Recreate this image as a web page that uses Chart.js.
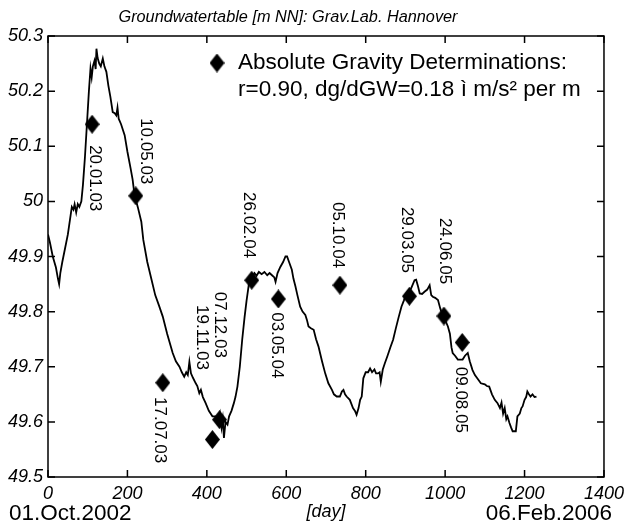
<!DOCTYPE html>
<html>
<head>
<meta charset="utf-8">
<script src="https://cdn.jsdelivr.net/npm/chart.js@4.4.1/dist/chart.umd.min.js"></script>
<style>
  html, body { margin: 0; padding: 0; background: #fff; }
  canvas { display: block; }
</style>
</head>
<body>
<canvas id="gwChart" width="630" height="525"></canvas>
<script>
// groundwater level (day since 01.10.2002, m NN)
const gwDays = [0, 5, 12, 20, 25, 28, 31, 36, 43, 50, 57, 60, 64, 67, 71, 75, 79, 84, 88, 93, 98, 103, 107, 110, 113, 117, 120, 122, 125, 129, 133, 138, 142, 147, 152, 157, 163, 168, 172, 175, 178, 184, 193, 200, 208, 213, 218, 226, 235, 240, 250, 260, 270, 280, 289, 300, 314, 322, 331, 337, 343, 348, 352, 356, 360, 365, 372, 376, 381, 385, 390, 397, 405, 414, 422, 428, 433, 437, 440, 443, 447, 452, 456, 462, 468, 472, 477, 483, 489, 495, 500, 506, 514, 520, 525, 531, 538, 545, 552, 558, 564, 570, 573, 578, 585, 592, 598, 602, 607, 614, 618, 623, 628, 635, 641, 648, 652, 656, 662, 669, 675, 681, 690, 698, 706, 715, 720, 727, 735, 740, 744, 748, 752, 760, 768, 773, 777, 782, 786, 790, 794, 800, 806, 811, 816, 822, 826, 831, 835, 838, 843, 848, 855, 862, 869, 876, 883, 890, 896, 902, 910, 916, 923, 927, 932, 936, 942, 948, 955, 961, 965, 969, 975, 982, 988, 994, 1000, 1007, 1012, 1016, 1019, 1025, 1032, 1038, 1044, 1050, 1057, 1062, 1069, 1075, 1080, 1085, 1090, 1100, 1105, 1111, 1118, 1125, 1132, 1138, 1142, 1146, 1150, 1154, 1157, 1162, 1166, 1170, 1174, 1178, 1182, 1188, 1192, 1195, 1200, 1204, 1207, 1211, 1215, 1220, 1225, 1230];
const gwLevel = [49.94, 49.925, 49.90, 49.88, 49.86, 49.85, 49.87, 49.89, 49.915, 49.94, 49.975, 49.99, 49.985, 49.995, 49.98, 49.995, 49.99, 50.0, 50.03, 50.08, 50.14, 50.2, 50.241, 50.225, 50.245, 50.255, 50.24, 50.277, 50.26, 50.25, 50.245, 50.259, 50.245, 50.235, 50.21, 50.19, 50.162, 50.16, 50.156, 50.17, 50.15, 50.14, 50.12, 50.09, 50.06, 50.04, 50.011, 49.99, 49.963, 49.93, 49.89, 49.86, 49.83, 49.81, 49.791, 49.76, 49.725, 49.71, 49.70, 49.69, 49.682, 49.69, 49.685, 49.709, 49.688, 49.68, 49.67, 49.665, 49.652, 49.658, 49.645, 49.634, 49.62, 49.61, 49.61, 49.6, 49.615, 49.59, 49.605, 49.571, 49.6, 49.595, 49.61, 49.62, 49.634, 49.645, 49.664, 49.7, 49.749, 49.79, 49.82, 49.851, 49.863, 49.87, 49.865, 49.872, 49.868, 49.872, 49.866, 49.87, 49.866, 49.862, 49.854, 49.87, 49.881, 49.89, 49.9, 49.9, 49.89, 49.876, 49.86, 49.846, 49.83, 49.809, 49.8, 49.794, 49.785, 49.773, 49.77, 49.767, 49.75, 49.737, 49.71, 49.688, 49.67, 49.658, 49.65, 49.646, 49.646, 49.655, 49.658, 49.65, 49.646, 49.64, 49.625, 49.62, 49.613, 49.625, 49.64, 49.646, 49.679, 49.69, 49.69, 49.697, 49.69, 49.695, 49.688, 49.688, 49.69, 49.673, 49.695, 49.706, 49.72, 49.735, 49.749, 49.77, 49.79, 49.809, 49.82, 49.833, 49.835, 49.845, 49.857, 49.858, 49.845, 49.833, 49.832, 49.836, 49.84, 49.848, 49.83, 49.827, 49.825, 49.821, 49.805, 49.791, 49.785, 49.773, 49.76, 49.735, 49.725, 49.72, 49.713, 49.713, 49.713, 49.72, 49.725, 49.71, 49.694, 49.685, 49.68, 49.675, 49.67, 49.668, 49.665, 49.664, 49.65, 49.64, 49.634, 49.625, 49.635, 49.615, 49.625, 49.605, 49.61, 49.598, 49.59, 49.583, 49.583, 49.583, 49.61, 49.615, 49.625, 49.628, 49.64, 49.645, 49.655, 49.65, 49.646, 49.65, 49.645, 49.646];

// absolute gravity determinations
const agDates = ["20.01.03", "10.05.03", "17.07.03", "19.11.03", "07.12.03", "26.02.04", "03.05.04", "05.10.04", "29.03.05", "24.06.05", "09.08.05"];
const agDays = [111, 221, 289, 414, 432, 513, 580, 735, 910, 997, 1043];
const agLevel = [50.14, 50.01, 49.671, 49.568, 49.604, 49.857, 49.823, 49.848, 49.828, 49.792, 49.744];
// where each date text starts (day, level), text runs downward
const labelDays = [118, 245, 280, 388, 433, 506, 576, 729, 902, 999, 1039];
const labelLevels = [50.102, 50.151, 49.645, 49.812, 49.836, 50.017, 49.799, 49.999, 49.990, 49.970, 49.700];

const xTicks = [0, 200, 400, 600, 800, 1000, 1200, 1400];
const yTicks = [49.5, 49.6, 49.7, 49.8, 49.9, 50, 50.1, 50.2, 50.3];

const titleText = "Groundwatertable [m NN]: Grav.Lab. Hannover";
const legendLines = ["Absolute Gravity Determinations:", "r=0.90, dg/dGW=0.18 ì m/s² per m"];
const startDate = "01.Oct.2002";
const endDate = "06.Feb.2006";
const xTitle = "[day]";

const FONT = "'Liberation Sans', Arial, sans-serif";

// diamond marker, a bit taller than wide
const diamond = document.createElement("canvas");
diamond.width = 15;
diamond.height = 19;
(() => {
  const c = diamond.getContext("2d");
  c.fillStyle = "#000";
  c.beginPath();
  c.moveTo(7.5, 0);
  c.lineTo(15, 9.5);
  c.lineTo(7.5, 19);
  c.lineTo(0, 9.5);
  c.closePath();
  c.fill();
})();

const framePlugin = {
  id: "frame",
  afterDatasetsDraw(chart) {
    const { ctx, chartArea: a, scales } = chart;
    const tick = 7;
    ctx.save();
    ctx.strokeStyle = "#000";
    ctx.lineWidth = 1.5;
    ctx.strokeRect(a.left, a.top, a.right - a.left, a.bottom - a.top);
    ctx.beginPath();
    xTicks.forEach(v => {
      const x = scales.x.getPixelForValue(v);
      ctx.moveTo(x, a.bottom); ctx.lineTo(x, a.bottom - tick);
      ctx.moveTo(x, a.top); ctx.lineTo(x, a.top + tick);
    });
    yTicks.forEach(v => {
      const y = scales.y.getPixelForValue(v);
      ctx.moveTo(a.left, y); ctx.lineTo(a.left + tick, y);
      ctx.moveTo(a.right, y); ctx.lineTo(a.right - tick, y);
    });
    ctx.stroke();
    ctx.restore();
  },
  afterDraw(chart) {
    const { ctx, chartArea: a, scales } = chart;
    ctx.save();
    ctx.fillStyle = "#000";

    // title
    ctx.font = "italic 16.3px " + FONT;
    ctx.textAlign = "center";
    ctx.textBaseline = "alphabetic";
    ctx.fillText(titleText, 288, 22);

    // legend
    ctx.drawImage(diamond, 217 - 7.5, 63 - 9.5);
    ctx.font = "22.5px " + FONT;
    ctx.textAlign = "left";
    ctx.fillText(legendLines[0], 238, 69);
    ctx.fillText(legendLines[1], 238, 96);

    // date labels next to the markers
    ctx.font = "17px " + FONT;
    ctx.textBaseline = "middle";
    agDates.forEach((txt, i) => {
      const x = scales.x.getPixelForValue(labelDays[i]);
      const y = scales.y.getPixelForValue(labelLevels[i]);
      ctx.save();
      ctx.translate(x, y);
      ctx.rotate(Math.PI / 2);
      ctx.fillText(txt, 0, 0);
      ctx.restore();
    });

    // bottom texts
    ctx.textBaseline = "alphabetic";
    ctx.font = "22.5px " + FONT;
    ctx.textAlign = "left";
    ctx.fillText(startDate, 9, 520);
    ctx.textAlign = "right";
    ctx.fillText(endDate, 612, 520);
    ctx.font = "italic 18px " + FONT;
    ctx.textAlign = "center";
    ctx.fillText(xTitle, (a.left + a.right) / 2, 517);
    ctx.restore();
  }
};

const tickFont = { family: FONT, size: 18, style: "italic" };

new Chart(document.getElementById("gwChart"), {
  type: "line",
  data: {
    datasets: [
      {
        label: "Absolute Gravity Determinations",
        data: agDays.map((d, i) => ({ x: d, y: agLevel[i] })),
        showLine: false,
        pointStyle: diamond,
        pointRadius: 8,
        order: 0
      },
      {
        label: "Groundwatertable",
        data: gwDays.map((d, i) => ({ x: d, y: gwLevel[i] })),
        borderColor: "#000",
        borderWidth: 1.8,
        pointRadius: 0,
        tension: 0,
        fill: false,
        order: 1
      }
    ]
  },
  options: {
    responsive: false,
    animation: false,
    devicePixelRatio: 1,
    layout: { padding: { top: 36, right: 23, left: 0, bottom: 0 } },
    plugins: {
      legend: { display: false },
      title: { display: false },
      tooltip: { enabled: false }
    },
    scales: {
      x: {
        type: "linear",
        min: 0,
        max: 1400,
        afterBuildTicks: s => { s.ticks = xTicks.map(v => ({ value: v })); },
        afterFit: s => { s.height = 48; },
        grid: { display: false, drawTicks: false },
        border: { display: false },
        ticks: { font: tickFont, color: "#000", padding: 6, maxRotation: 0, autoSkip: false, callback: v => String(v) }
      },
      y: {
        type: "linear",
        min: 49.5,
        max: 50.3,
        afterBuildTicks: s => { s.ticks = yTicks.map(v => ({ value: v })); },
        afterFit: s => { s.width = 48; },
        grid: { display: false, drawTicks: false },
        border: { display: false },
        ticks: { font: tickFont, color: "#000", padding: 5, autoSkip: false, callback: v => String(Math.round(v * 10) / 10) }
      }
    }
  },
  plugins: [framePlugin]
});
</script>
</body>
</html>
